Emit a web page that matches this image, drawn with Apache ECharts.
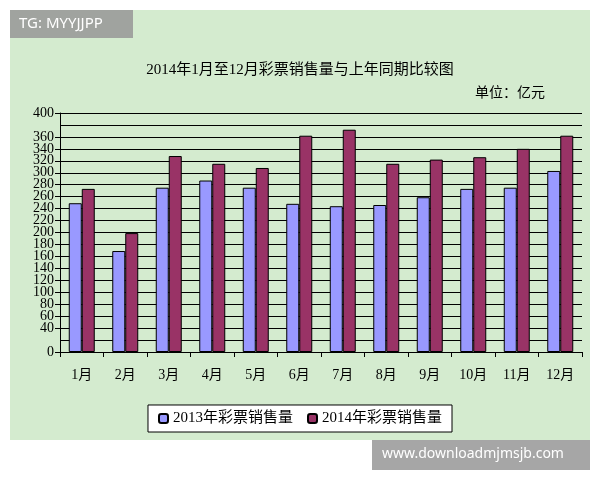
<!DOCTYPE html>
<html><head><meta charset="utf-8">
<script src="https://cdn.jsdelivr.net/npm/echarts@6/dist/echarts.min.js"></script>
<style>html,body{margin:0;padding:0;background:#fff}#chart{width:600px;height:480px}</style>
</head><body><div id="chart"></div>
<script>
var months = ['1月','2月','3月','4月','5月','6月','7月','8月','9月','10月','11月','12月'];
var sales2013 = [249, 169, 275, 287, 275, 248, 244, 246, 259, 273, 275, 303];
var sales2014 = [273, 199, 328, 315, 308, 362, 372, 315, 322, 326, 340, 362];
var font = '"Liberation Serif", "Noto Sans CJK SC", serif';

var myChart = echarts.init(document.getElementById('chart'));
var option = {
    animation: false,
    backgroundColor: '#fff',
    graphic: [
        { type: 'rect', z: -10, shape: { x: 10, y: 10, width: 580, height: 430 }, style: { fill: '#d4ebcf' } },
        { type: 'rect', z: 10, shape: { x: 10, y: 10, width: 123, height: 28 }, style: { fill: 'rgba(150,150,150,0.85)' } },
        { type: 'text', z: 11, left: 19, top: 16, style: { text: 'TG: MYYJJPP', fill: '#fff', font: '15px "Noto Sans"' } },
        { type: 'rect', z: 10, shape: { x: 372, y: 440, width: 218, height: 30 }, style: { fill: 'rgba(150,150,150,0.85)' } },
        { type: 'text', z: 11, left: 382, top: 447, style: { text: 'www.downloadmjmsjb.com', fill: '#fff', font: '14px "Noto Sans"' } },
        { type: 'text', left: 475, top: 86, style: { text: '单位：亿元', fill: '#000', font: '14px ' + font } }
    ],
    title: {
        text: '2014年1月至12月彩票销售量与上年同期比较图',
        left: 'center', top: 58,
        textStyle: { fontFamily: font, fontSize: 15, fontWeight: 'normal', color: '#000' }
    },
    legend: {
        bottom: 48, left: 'center',
        backgroundColor: '#fff', borderColor: '#000', borderWidth: 1,
        padding: [6, 10], itemWidth: 9, itemHeight: 9, itemGap: 14,
        textStyle: { fontFamily: font, fontSize: 15, color: '#000' },
        data: ['2013年彩票销售量', '2014年彩票销售量']
    },
    grid: { left: 60, right: 18, top: 113, bottom: 128 },
    xAxis: {
        type: 'category', data: months,
        axisLine: { lineStyle: { color: '#000' } },
        axisTick: { show: true, lineStyle: { color: '#000' } },
        axisLabel: { fontFamily: font, fontSize: 14, color: '#000', margin: 16 }
    },
    yAxis: {
        type: 'value', min: 0, max: 400, interval: 20,
        axisLine: { show: true, lineStyle: { color: '#000' } },
        axisTick: { show: true, lineStyle: { color: '#000' } },
        axisLabel: { fontFamily: font, fontSize: 14, color: '#000', margin: 6,
                     showMinLabel: true, showMaxLabel: true, hideOverlap: false },
        splitLine: { lineStyle: { color: '#000', width: 1 } }
    },
    series: [
        { name: '2013年彩票销售量', type: 'bar', data: sales2013, barWidth: 13, barGap: '0%',
          itemStyle: { color: '#9999ff', borderColor: '#000', borderWidth: 1 } },
        { name: '2014年彩票销售量', type: 'bar', data: sales2014, barWidth: 13,
          itemStyle: { color: '#993366', borderColor: '#000', borderWidth: 1 } }
    ]
};
myChart.setOption(option);
</script></body></html>
